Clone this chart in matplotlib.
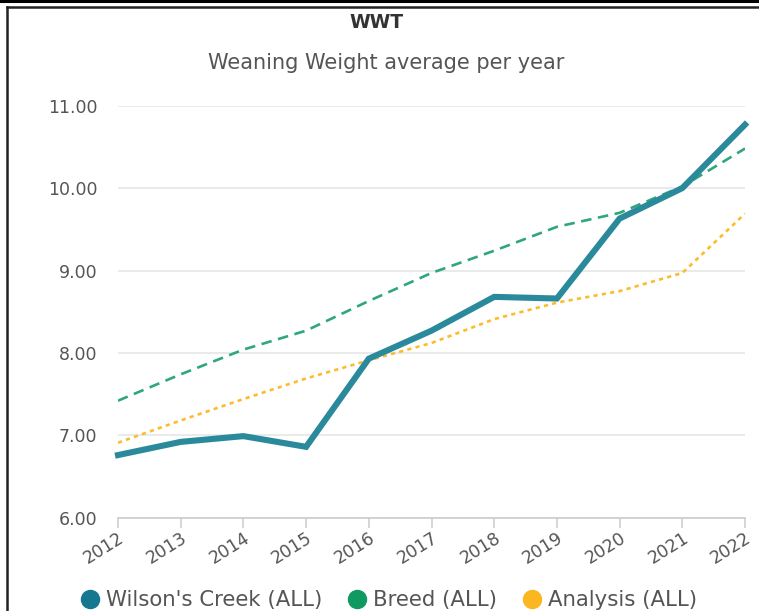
import matplotlib
matplotlib.use("Agg")
import matplotlib.pyplot as plt
from matplotlib.lines import Line2D
from matplotlib.transforms import ScaledTranslation

plt.rcParams['font.family'] = ['DejaVu Sans']

years = ['2012', '2013', '2014', '2015', '2016', '2017', '2018', '2019', '2020', '2021', '2022']
wilsons_creek = [6.76, 6.92, 6.99, 6.86, 7.93, 8.27, 8.68, 8.66, 9.63, 10.00, 10.77]
breed = [7.42, 7.74, 8.04, 8.27, 8.63, 8.97, 9.24, 9.53, 9.70, 10.02, 10.48]
analysis = [6.91, 7.18, 7.44, 7.69, 7.91, 8.12, 8.41, 8.61, 8.75, 8.97, 9.69]
y_ticks = [6, 7, 8, 9, 10, 11]

teal = '#2a8a9c'
green = '#2ea879'
yellow = '#fbbd2c'
gray = '#555555'

fig = plt.figure(figsize=(7.59, 6.11), dpi=100)
ax = fig.add_axes([118 / 759, 93.3 / 611, 627 / 759, 412 / 611])

x = list(range(len(years)))
ax.plot(x, breed, color=green, lw=1.9, dashes=(4, 2.5), zorder=3)
ax.plot(x, analysis, color=yellow, lw=1.9, dashes=(1.6, 1.6), zorder=3)
ax.plot(x, wilsons_creek, color=teal, lw=4.4, solid_joinstyle='miter',
        clip_on=False, zorder=4)

ax.set_xlim(0, len(years) - 1)
ax.set_ylim(6, 11)
ax.set_yticks(y_ticks)
ax.set_yticklabels([f'{v:.2f}' for v in y_ticks])
ax.set_xticks(x)
ax.set_xticklabels(years, rotation=32, ha='right', va='top', rotation_mode='anchor')
shift = ScaledTranslation(5 / 100, 0, fig.dpi_scale_trans)
for lab in ax.get_xticklabels():
    lab.set_transform(lab.get_transform() + shift)
ax.grid(axis='y', color='#e6e6e6', lw=1.2)
ax.set_axisbelow(True)
for side in ['top', 'right', 'left']:
    ax.spines[side].set_visible(False)
ax.spines['bottom'].set_color('#cccccc')
ax.spines['bottom'].set_linewidth(1.2)
ax.tick_params(axis='y', length=0, pad=15, labelsize=12.5, labelcolor=gray)
ax.tick_params(axis='x', length=7, width=1.1, color='#cccccc', pad=1,
               labelsize=12.5, labelcolor=gray)

fig.text(376 / 759, 1 - 22 / 611, 'WWT', ha='center', va='center',
         fontsize=13.5, fontweight='bold', color='#333333')
fig.text(386 / 759, 1 - 63 / 611, 'Weaning Weight average per year', ha='center',
         va='center', fontsize=15, color=gray)

handles = [Line2D([], [], ls='none', marker='o', ms=13, color=c)
           for c in ['#17778f', '#109a62', '#fbb720']]
fig.legend(handles, ["Wilson's Creek (ALL)", 'Breed (ALL)', 'Analysis (ALL)'],
           loc='center', bbox_to_anchor=(388 / 759, 1 - 600 / 611), ncol=3,
           frameon=False, fontsize=15.3, labelcolor=gray, handletextpad=0.25,
           columnspacing=1.15, handlelength=1.0, borderaxespad=0)

# screenshot frame
fig.add_artist(Line2D([0, 1], [1 - 1 / 611, 1 - 1 / 611], color='black', lw=2.2))
fig.add_artist(Line2D([7 / 759, 1], [1 - 7 / 611, 1 - 7 / 611], color='#222222', lw=1.8))
fig.add_artist(Line2D([7 / 759, 7 / 759], [0, 1 - 7 / 611], color='#222222', lw=1.8))

fig.savefig('out.png', dpi=100)
